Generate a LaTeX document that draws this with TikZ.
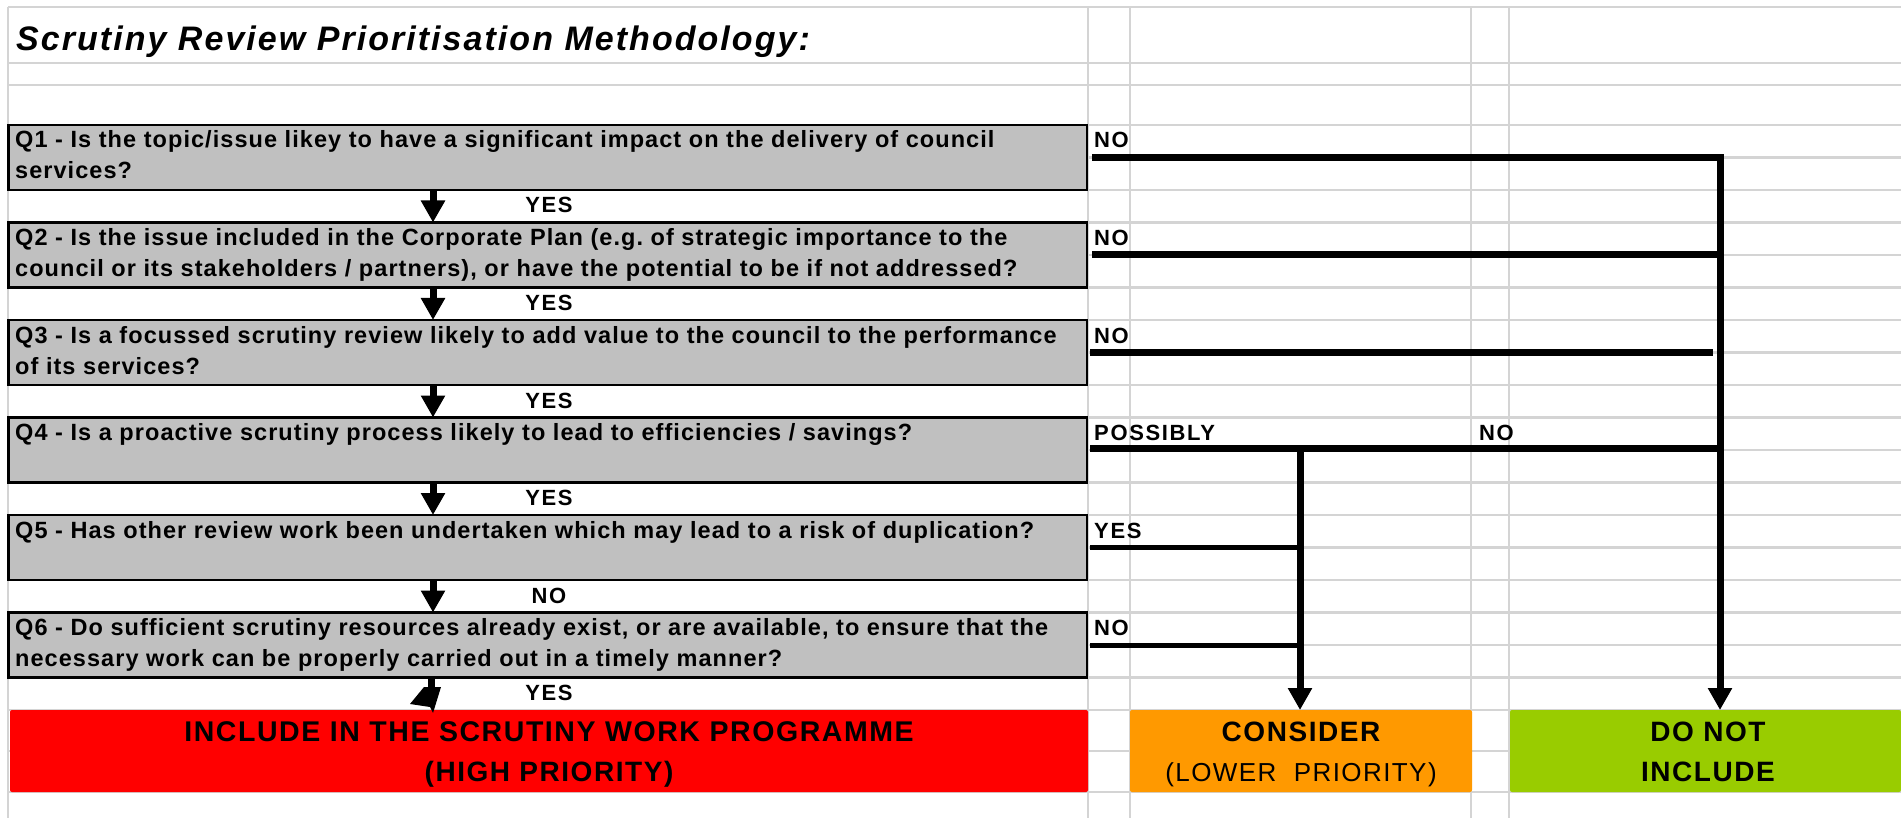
\documentclass[tikz,border=0pt]{standalone}
\usepackage{fontspec}
\setmainfont{Liberation Sans}
\newfontfamily\qfam[LetterSpace=4.5]{Liberation Sans}
\newfontfamily\lblfam[LetterSpace=7.5]{Liberation Sans}
\newfontfamily\ttlfam[LetterSpace=6]{Liberation Sans}
\newfontfamily\resfam[LetterSpace=5.5]{Liberation Sans}
\usetikzlibrary{arrows.meta}
\definecolor{gridgray}{HTML}{D4D4D4}
\definecolor{boxgray}{HTML}{C0C0C0}
\definecolor{incred}{HTML}{FF0000}
\definecolor{conorange}{HTML}{FF9900}
\definecolor{dnigreen}{HTML}{99CC00}
\frenchspacing
\begin{document}
\begin{tikzpicture}[x=1pt,y=-1pt,
  gridline/.style={draw=gridgray,line width=2.5pt},
  qbox/.style={draw=black,fill=boxgray,line width=2.5pt,minimum width=1078.5pt,minimum height=65pt,inner sep=0pt,outer sep=0pt,anchor=north west},
  qtext/.style={anchor=base west,inner sep=0pt,font=\qfam\bfseries\fontsize{23.5}{28}\selectfont},
  lbl/.style={anchor=base west,inner sep=0pt,font=\lblfam\bfseries\fontsize{22}{26}\selectfont},
  yeslbl/.style={anchor=base,inner sep=0pt,font=\lblfam\bfseries\fontsize{22}{26}\selectfont},
  resbox/.style={minimum height=82pt,inner sep=0pt,outer sep=0pt,anchor=north west,rounded corners=2pt},
  restext/.style={anchor=base,inner sep=0pt,font=\resfam\bfseries\fontsize{28}{32}\selectfont},
  resplain/.style={anchor=base,inner sep=0pt,font=\resfam\fontsize{26}{30}\selectfont},
  flow/.style={line width=7pt},
  thinflow/.style={line width=5pt},
  arr/.style={-{Triangle[width=23pt,length=22pt]}},
]
\useasboundingbox (0,0) rectangle (1901,818);
\fill[white] (0,0) rectangle (1901,818);
% spreadsheet grid
\foreach \yy in {7,63,85,751,792} \draw[gridline] (8,\yy) -- (1901,\yy);
\foreach \k in {0,...,18} \draw[gridline] (8,125+32.5*\k) -- (1901,125+32.5*\k);
\foreach \xx in {8,1088,1130,1471,1509} \draw[gridline] (\xx,7) -- (\xx,818);

% title
\node[anchor=base west,inner sep=0pt,font=\ttlfam\bfseries\itshape\fontsize{34}{40}\selectfont] (title) at (16,51) {Scrutiny Review Prioritisation Methodology:};

% question boxes
\node[qbox] (q1) at (8.5,125) {};
\node[qbox] (q2) at (8.5,222.5) {};
\node[qbox] (q3) at (8.5,320) {};
\node[qbox] (q4) at (8.5,417.5) {};
\node[qbox] (q5) at (8.5,515) {};
\node[qbox] (q6) at (8.5,612.5) {};

% result boxes
\node[resbox,fill=incred,minimum width=1078pt] (inc) at (10,710) {};
\node[resbox,fill=conorange,minimum width=342pt] (con) at (1130,710) {};
\node[resbox,fill=dnigreen,minimum width=391pt] (dni) at (1510,710) {};

% question texts
\node[qtext] (q1a) at (15,148) {Q1 - Is the topic/issue likey to have a significant impact on the delivery of council};
\node[qtext] (q1b) at (15,179) {services?};
\node[qtext] (q2a) at (15,245.5) {Q2 - Is the issue included in the Corporate Plan (e.g. of strategic importance to the};
\node[qtext] (q2b) at (15,276.5) {council or its stakeholders / partners), or have the potential to be if not addressed?};
\node[qtext] (q3a) at (15,343) {Q3 - Is a focussed scrutiny review likely to add value to the council to the performance};
\node[qtext] (q3b) at (15,374) {of its services?};
\node[qtext] (q4a) at (15,440.5) {Q4 - Is a proactive scrutiny process likely to lead to efficiencies / savings?};
\node[qtext] (q5a) at (15,538) {Q5 - Has other review work been undertaken which may lead to a risk of duplication?};
\node[qtext] (q6a) at (15,635.5) {Q6 - Do sufficient scrutiny resources already exist, or are available, to ensure that the};
\node[qtext] (q6b) at (15,666.5) {necessary work can be properly carried out in a timely manner?};

% right-hand answer labels
\node[lbl] (n1) at (1094,148) {NO};
\node[lbl] (n2) at (1094,245.5) {NO};
\node[lbl] (n3) at (1094,343) {NO};
\node[lbl] (p4) at (1094,440.5) {POSSIBLY};
\node[lbl] (n4) at (1479,440.5) {NO};
\node[lbl] (y5) at (1094,538) {YES};
\node[lbl] (n6) at (1094,635.5) {NO};

% downward answer labels
\node[yeslbl] (y1) at (549,213) {YES};
\node[yeslbl] (y2) at (549,310.5) {YES};
\node[yeslbl] (y3) at (549,408) {YES};
\node[yeslbl] (y4) at (549,505.5) {YES};
\node[yeslbl] (n5) at (549,603) {NO};
\node[yeslbl] (y6) at (549,700.5) {YES};

% result texts
\node[restext,font=\resfam\bfseries\fontsize{28.5}{32}\selectfont] (inct1) at (549,741) {INCLUDE IN THE SCRUTINY WORK PROGRAMME};
\node[restext] (inct2) at (549,781) {(HIGH PRIORITY)};
\node[restext] (cont1) at (1301,741) {CONSIDER};
\node[resplain] (cont2) at (1301,781) {(LOWER\ \ PRIORITY)};
\node[restext] (dnit1) at (1708,741) {DO NOT};
\node[restext] (dnit2) at (1708,781) {INCLUDE};

% main column connectors
\coordinate (ax) at (433,0);
\coordinate (ax6) at (431,0);
\draw[flow,arr] (q1.south -| ax) -- (q2.north -| ax);
\draw[flow,arr] (q2.south -| ax) -- (q3.north -| ax);
\draw[flow,arr] (q3.south -| ax) -- (q4.north -| ax);
\draw[flow,arr] (q4.south -| ax) -- (q5.north -| ax);
\draw[flow,arr] (q5.south -| ax) -- (q6.north -| ax);
\draw[flow] (q6.south -| ax6) -- ++(0,12);
\coordinate (t6) at (inc.north -| ax6);
\fill ([shift={(-7,-23)}]t6) -- ([shift={(10,-23)}]t6) -- ([shift={(2,3)}]t6) -- ([shift={(-1,-3)}]t6) -- ([shift={(-21,-6)}]t6) -- cycle;

% right-hand connectors
\coordinate (dx) at (1720,0);
\coordinate (cx) at (1300,0);
\draw[flow,arr] ([xshift=5pt]q1.east) -- (q1.east -| dx) -- (dni.north -| dx);
\draw[flow] ([xshift=5pt]q2.east) -- (q2.east -| dx);
\draw[flow] ([xshift=3pt]q3.east) -- ([xshift=-7pt]q3.east -| dx);
\draw[flow] ([xshift=3pt,yshift=1.5pt]q4.east) -- ([yshift=1.5pt]q4.east -| dx);
\draw[flow,arr] ([yshift=1.5pt]q4.east -| cx) -- (con.north -| cx);
\draw[thinflow] ([xshift=3pt]q5.east) -- (q5.east -| cx);
\draw[thinflow] ([xshift=3pt]q6.east) -- (q6.east -| cx);
\end{tikzpicture}
\end{document}
